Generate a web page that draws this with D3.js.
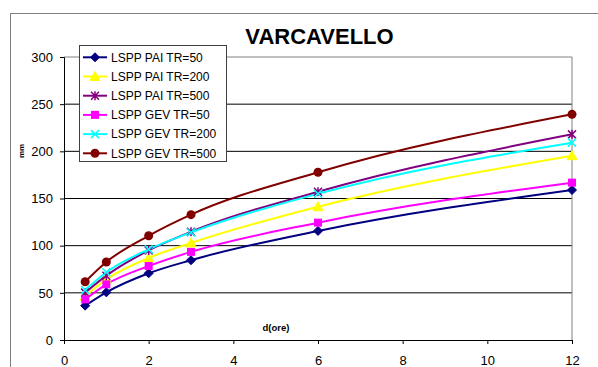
<!DOCTYPE html>
<html>
<head>
<meta charset="utf-8">
<script src="https://cdn.jsdelivr.net/npm/d3@7"></script>
<style>
  html, body { margin: 0; padding: 0; background: #fff; }
  svg { display: block; font-family: Arial, "Liberation Sans", sans-serif; }
</style>
</head>
<body>
<div id="chart"></div>
<script>
const title = "VARCAVELLO";
const durations = [0.5, 1, 2, 3, 6, 12];
const seriesNames = ["LSPP PAI TR=50", "LSPP PAI TR=200", "LSPP PAI TR=500",
                     "LSPP GEV TR=50", "LSPP GEV TR=200", "LSPP GEV TR=500"];
const pai50  = [36.4, 50.5, 70.7, 84.6, 115.6, 159.0];
const pai200 = [46.5, 64.3, 86.9, 102.8, 141.3, 195.4];
const pai500 = [50.2, 68.2, 95.0, 114.8, 157.2, 218.0];
const gev50  = [43.1, 59.0, 78.4, 93.4, 124.4, 166.8];
const gev200 = [53.0, 71.8, 96.1, 114.0, 155.0, 209.2];
const gev500 = [61.8, 82.7, 110.5, 132.9, 177.8, 239.2];
const xTicks = [0, 2, 4, 6, 8, 10, 12];
const yTicks = [0, 50, 100, 150, 200, 250, 300];
const xLabel = "d(ore)";
const yLabel = "mm";

const seriesValues = [pai50, pai200, pai500, gev50, gev200, gev500];
const colors = ["#000080", "#FFFF00", "#800080", "#FF00FF", "#00FFFF", "#800000"];
const markers = ["diamond", "triangle", "asterisk", "square", "cross", "circle"];

const W = 598, H = 367;
const svg = d3.select("#chart").append("svg").attr("width", W).attr("height", H);

// outer chart border
svg.append("rect").attr("x", 10.5).attr("y", 13.5).attr("width", 600).attr("height", 400)
  .attr("fill", "none").attr("stroke", "#808080").attr("stroke-width", 1);

const x = d3.scaleLinear().domain([0, 12]).range([64, 572]);
const y = d3.scaleLinear().domain([0, 300]).range([340, 57]);

// gridlines
svg.append("g").selectAll("line").data(yTicks.filter(v => v > 0 && v < 300)).join("line")
  .attr("x1", x(0)).attr("x2", x(12)).attr("y1", d => y(d)).attr("y2", d => y(d))
  .attr("stroke", "#000").attr("stroke-width", 1);

// plot area border (top, right)
svg.append("path")
  .attr("d", `M${x(0)},${y(300)}H${x(12)}V${y(0)}`)
  .attr("fill", "none").attr("stroke", "#808080").attr("stroke-width", 1);

// axes
const yAxis = d3.axisLeft(y).tickValues(yTicks).tickSize(4).tickPadding(7);
const gy = svg.append("g").attr("transform", `translate(${x(0)},0)`).call(yAxis);
const xAxis = d3.axisBottom(x).tickValues(xTicks).tickSize(4).tickPadding(12);
const gx = svg.append("g").attr("transform", `translate(0,${y(0)})`).call(xAxis);
[gx, gy].forEach(g => {
  g.select(".domain").attr("stroke", "#000").attr("stroke-width", 1);
  g.selectAll(".tick line").attr("stroke", "#000");
  g.selectAll(".tick text").attr("fill", "#000").attr("font-size", 13)
    .attr("font-family", "Arial, 'Liberation Sans', sans-serif");
});

// axis labels
svg.append("text").attr("x", 276).attr("y", 331).attr("text-anchor", "middle")
  .attr("font-size", 9.5).attr("font-weight", "bold").text(xLabel);
svg.append("text").attr("transform", "translate(24,151) rotate(-90)")
  .attr("text-anchor", "middle").attr("font-size", 8).attr("font-weight", "bold").text(yLabel);

// title
svg.append("text").attr("x", 319.5).attr("y", 44).attr("text-anchor", "middle")
  .attr("font-size", 22).attr("font-weight", "bold").text(title);

function drawMarker(g, type, color) {
  const s = 4;
  switch (type) {
    case "diamond":
      g.append("path").attr("d", `M0,${-s-0.5}L${s+0.5},0L0,${s+0.5}L${-s-0.5},0Z`).attr("fill", color).attr("stroke", color);
      break;
    case "triangle":
      g.append("path").attr("d", `M0,${-s-1}L${s+1},${s}L${-s-1},${s}Z`).attr("fill", color).attr("stroke", color);
      break;
    case "square":
      g.append("rect").attr("x", -s).attr("y", -s).attr("width", 2*s).attr("height", 2*s).attr("fill", color);
      break;
    case "circle":
      g.append("circle").attr("r", s + 0.5).attr("fill", color);
      break;
    case "cross":
      g.append("path").attr("d", `M${-s},${-s}L${s},${s}M${-s},${s}L${s},${-s}`).attr("stroke", color).attr("stroke-width", 1.5).attr("fill", "none");
      break;
    case "asterisk":
      g.append("path").attr("d", `M${-s},${-s}L${s},${s}M${-s},${s}L${s},${-s}M0,${-s-0.5}L0,${s+0.5}`).attr("stroke", color).attr("stroke-width", 1.5).attr("fill", "none");
      break;
  }
}

const line = d3.line().x(d => x(d[0])).y(d => y(d[1])).curve(d3.curveMonotoneX);

seriesValues.forEach((vals, i) => {
  const pts = durations.map((d, j) => [d, vals[j]]);
  svg.append("path").datum(pts).attr("d", line)
    .attr("fill", "none").attr("stroke", colors[i]).attr("stroke-width", 2);
});
seriesValues.forEach((vals, i) => {
  durations.forEach((d, j) => {
    const g = svg.append("g").attr("transform", `translate(${x(d)},${y(vals[j])})`);
    drawMarker(g, markers[i], colors[i]);
  });
});

// legend
const leg = svg.append("g");
leg.append("rect").attr("x", 79.5).attr("y", 45.5).attr("width", 147).attr("height", 116)
  .attr("fill", "#fff").attr("stroke", "#404040").attr("stroke-width", 1);
seriesNames.forEach((name, i) => {
  const cy = 57.3 + i * 19.2;
  leg.append("line").attr("x1", 83).attr("x2", 107).attr("y1", cy).attr("y2", cy)
    .attr("stroke", colors[i]).attr("stroke-width", 2);
  const g = leg.append("g").attr("transform", `translate(95,${cy})`);
  drawMarker(g, markers[i], colors[i]);
  leg.append("text").attr("x", 111).attr("y", cy + 4.2).attr("font-size", 12)
    .attr("fill", "#000").text(name);
});
</script>
</body>
</html>
